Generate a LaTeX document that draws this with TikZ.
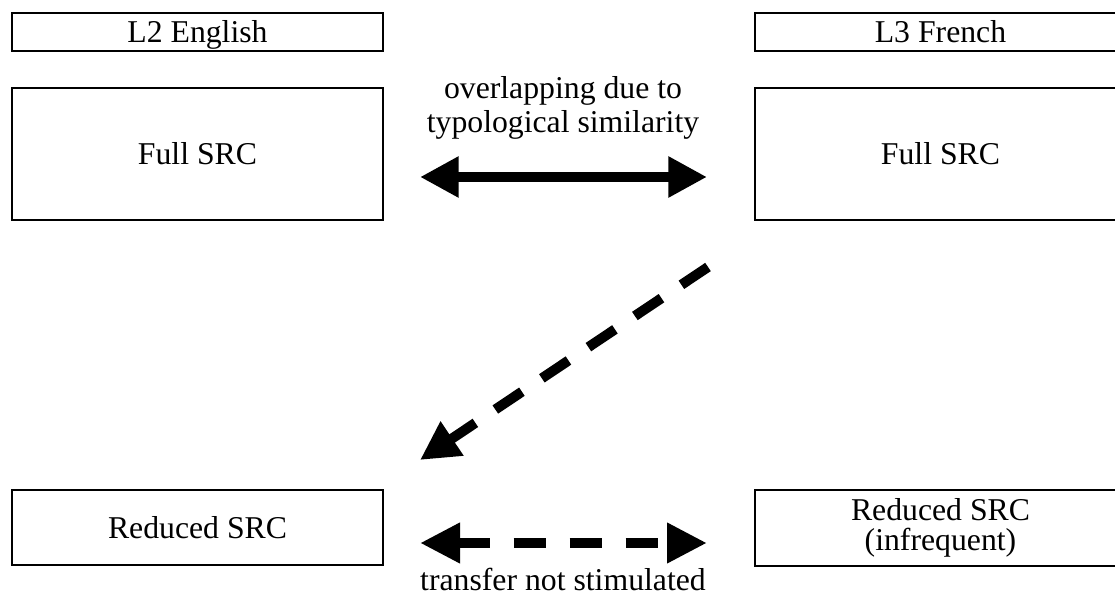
\documentclass[tikz,border=0pt]{standalone}
\usepackage{fontspec}
\setmainfont{Liberation Serif}
\usetikzlibrary{arrows.meta}
\begin{document}
\begin{tikzpicture}[
            x=0.75pt, y=-0.75pt,
            every node/.style={font=\fontsize{23.8}{26}\selectfont},
            head-node/.style={rectangle,draw,line width=1.5pt,minimum width=278.25pt,minimum height=28.5pt,inner sep=0pt},
            one-line/.style={text height=20pt,text depth=4pt},
            full-node/.style={head-node,minimum height=99pt},
            red-node/.style={head-node,minimum height=56.25pt,align=center},
            big-tip/.style={-{Triangle[length=29pt,width=29pt]}},
            solid-arrow/.style={line width=8pt,{Triangle[length=29pt,width=29pt]}-{Triangle[length=29pt,width=29pt]}},
            dash-arrow/.style={line width=7.5pt,dash pattern=on 24pt off 18pt},
        ]
            \useasboundingbox (0,0) rectangle (1115,595);
            % language headers
            \node[head-node,one-line] (l2) at (197.5, 32) {L2 English};
            \node[head-node,one-line] (l3) at (940.5, 32) {L3 French};
            % full SRC
            \node[full-node,one-line] (full-l2) at (197.5, 154) {Full SRC};
            \node[full-node,one-line] (full-l3) at (940.5, 154) {Full SRC};
            % reduced SRC
            \node[red-node,one-line] (red-l2) at (197.5, 527.5) {Reduced SRC};
            \node[red-node,font=\fontsize{23.8}{22.5}\selectfont] (red-l3) at (940.5, 528) {Reduced SRC\\(infrequent)};
            % arrow ends
            \coordinate (ovl-a) at (420, 177);
            \coordinate (ovl-b) at (707, 177);
            \coordinate (tr-a) at (708, 267);
            \coordinate (tr-b) at (420, 460);
            \coordinate (nst-a) at (420, 543);
            \coordinate (nst-b) at (707, 543);
            \draw[solid-arrow] (ovl-a) -- (ovl-b);
            \draw[dash-arrow,big-tip] (tr-a) -- (tr-b);
            \draw[dash-arrow,{Triangle[length=30pt,width=28.5pt]}-{Triangle[length=30pt,width=28.5pt]}] (nst-a) -- (nst-b);
            % labels
            \node[align=center] (ovl-text) at (563, 108) {overlapping due to\\typological similarity};
            \node[anchor=base] (nst-text) at (563, 590) {transfer not stimulated};
        \end{tikzpicture}
\end{document}
